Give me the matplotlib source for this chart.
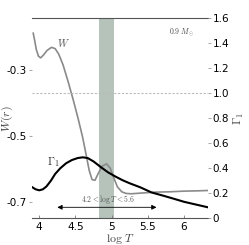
import matplotlib
matplotlib.use("Agg")
import matplotlib.pyplot as plt

plt.rcParams['mathtext.fontset'] = 'cm'
plt.rcParams['axes.unicode_minus'] = False

logT_W = [3.917, 3.935, 3.96, 3.99, 4.02, 4.06, 4.11, 4.17, 4.22, 4.27, 4.33, 4.40,
          4.47, 4.54, 4.60, 4.65, 4.69, 4.73, 4.77, 4.82, 4.87, 4.93, 4.98, 5.03,
          5.08, 5.14, 5.20, 5.27, 5.40, 5.60, 5.80, 6.00, 6.20, 6.33]
W_vals = [-0.188, -0.208, -0.238, -0.258, -0.263, -0.254, -0.240, -0.231, -0.235,
          -0.252, -0.285, -0.336, -0.391, -0.450, -0.505, -0.560, -0.605, -0.633,
          -0.635, -0.612, -0.592, -0.585, -0.598, -0.628, -0.655, -0.670, -0.675,
          -0.676, -0.674, -0.671, -0.670, -0.668, -0.667, -0.666]

logT_G = [3.90, 3.95, 4.00, 4.05, 4.10, 4.16, 4.22, 4.29, 4.37, 4.45, 4.53, 4.60,
          4.67, 4.75, 4.85, 4.95, 5.05, 5.15, 5.25, 5.40, 5.55, 5.70, 5.85, 6.00,
          6.15, 6.33]
G_vals = [0.250, 0.232, 0.224, 0.232, 0.255, 0.300, 0.355, 0.400, 0.440, 0.466,
          0.482, 0.488, 0.482, 0.455, 0.410, 0.368, 0.335, 0.305, 0.280, 0.247,
          0.207, 0.183, 0.158, 0.132, 0.112, 0.088]

band = (4.83, 5.03)
arrow_range = (4.25, 5.62)
x_ticks = [4, 4.5, 5, 5.5, 6]
x_ticklabels = ['4', '4.5', '5', '5.5', '6']
w_ticks = [-0.3, -0.5, -0.7]
w_ticklabels = ['-0.3', '-0.5', '-0.7']
g_ticks = [0, 0.2, 0.4, 0.6, 0.8, 1.0, 1.2, 1.4, 1.6]
g_ticklabels = ['0', '0.2', '0.4', '0.6', '0.8', '1.0', '1.2', '1.4', '1.6']

fig = plt.figure(figsize=(2.49, 2.45), dpi=100)
ax = fig.add_axes([0.1285, 0.109, 0.7065, 0.816])
ax2 = ax.twinx()

ax.axvspan(band[0], band[1], color='#b5c3bb', zorder=0, lw=0)
ax.plot(logT_W, W_vals, color='#8a8a8a', lw=1.2, zorder=3)
ax.set_xlim(3.90, 6.33)
ax.set_ylim(-0.7505, -0.143)
ax.set_xticks(x_ticks)
ax.set_xticklabels(x_ticklabels)
ax.set_yticks(w_ticks)
ax.set_yticklabels(w_ticklabels)

ax2.plot(logT_G, G_vals, color='black', lw=1.5, zorder=3)
ax2.axhline(1.0, color='#bbbbbb', lw=0.8, ls=(0, (2, 1.5)), zorder=1)
ax2.set_ylim(0, 1.6)
ax2.set_yticks(g_ticks)
ax2.set_yticklabels(g_ticklabels)
ax2.annotate('', xy=(arrow_range[0], 0.088), xytext=(arrow_range[1], 0.088),
             arrowprops=dict(arrowstyle='<|-|>', color='black', lw=0.6,
                             mutation_scale=7, shrinkA=0, shrinkB=0))
ax2.text(4.95, 0.152, r'$4.2 < \log T < 5.6$', fontsize=5.5, ha='center', va='center',
         color='#555555')
ax2.text(5.97, 1.49, r'$0.9\ M_{\odot}$', fontsize=5.5, ha='center', va='center',
         color='#444444')
ax2.text(4.19, 0.448, r'$\Gamma_1$', fontsize=8, ha='center', va='center', color='#333333')
ax.text(4.33, -0.218, r'$W$', fontsize=7.5, ha='center', va='center', color='#555555')

for a in (ax, ax2):
    for s in ('left', 'right'):
        a.spines[s].set_visible(False)
    for s in ('top', 'bottom'):
        a.spines[s].set_color('#555555')
        a.spines[s].set_linewidth(0.8)
ax2.spines['top'].set_visible(False)
ax2.spines['bottom'].set_visible(False)

ax.tick_params(axis='x', direction='in', length=2, width=0.6, color='#777777',
               labelsize=7.5, pad=2.5)
ax.tick_params(axis='y', direction='out', length=2, width=0.6, color='#999999',
               labelsize=7.5, pad=1.5)
ax2.tick_params(axis='y', direction='out', length=2, width=0.6, color='#999999',
                labelsize=7.5, pad=1.5)

ax.set_xlabel(r'$\log\,T$', fontsize=8.5, labelpad=0, color='#444444')
ax.set_ylabel(r'$W(r)$', fontsize=8.5, color='#444444')
ax.yaxis.set_label_coords(-0.095, 0.5)
ax2.set_ylabel(r'$\Gamma_1$', fontsize=8.5, labelpad=2, color='#444444')

fig.savefig('out.png', dpi=100)
